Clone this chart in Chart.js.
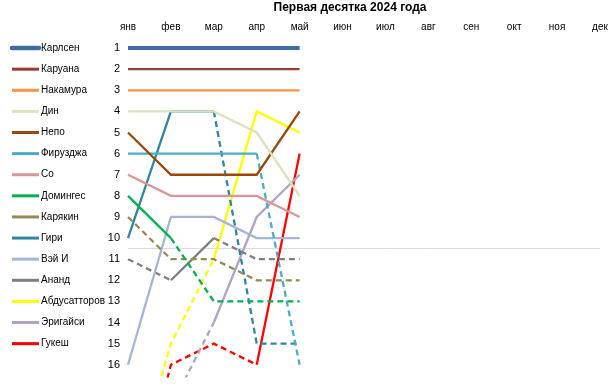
<!DOCTYPE html>
<html>
<head>
<meta charset="utf-8">
<script src="https://cdn.jsdelivr.net/npm/chart.js@4"></script>
<style>
  html, body { margin: 0; padding: 0; background: #fff; }
  #wrap { width: 615px; height: 392px; }
</style>
</head>
<body>
<div id="wrap"><canvas id="chart"></canvas></div>
<script>
// Месяцы и места в рейтинге
const months = ['янв', 'фев', 'мар', 'апр', 'май', 'июн', 'июл', 'авг', 'сен', 'окт', 'ноя', 'дек'];
const ranks = [1, 2, 3, 4, 5, 6, 7, 8, 9, 10, 11, 12, 13, 14, 15, 16];
const cutoff = 10.5;

// Места игроков по месяцам
const players = ['Карлсен', 'Каруана', 'Накамура', 'Дин', 'Непо', 'Фирузджа', 'Со', 'Домингес',
  'Карякин', 'Гири', 'Вэй И', 'Ананд', 'Абдусатторов', 'Эригайси', 'Гукеш'];
const karlsen = [1, 1, 1, 1, 1];
const caruana = [2, 2, 2, 2, 2];
const nakamura = [3, 3, 3, 3, 3];
const ding = [4, 4, 4, 5, 8];
const nepo = [5, 7, 7, 7, 4];
const firouzja = [6, 6, 6, 6, 16];
const so = [7, 8, 8, 8, 9];
const dominguez = [8, 10, 13, 13, 13];
const karjakin = [9, 11, 11, 12, 12];
const giri = [10, 4, 4, 15, 15];
const weiYi = [16, 9, 9, 10, 10];
const anand = [11, 12, 10, 11, 11];
const abdusattorov = [22, 15, 11, 4, 5];
const erigaisi = [null, 18, 14, 9, 7];
const gukesh = [24, 16, 15, 16, 6];

const series = [karlsen, caruana, nakamura, ding, nepo, firouzja, so, dominguez,
  karjakin, giri, weiYi, anand, abdusattorov, erigaisi, gukesh];

// Цвета линий
const colors = ['#3D6CA8', '#9B3B37', '#F79646', '#D7E4BD', '#984807', '#4BACC6', '#D99694', '#00B050',
  '#948A54', '#31859C', '#A5B5D6', '#7F7F7F', '#FFFF00', '#B3A2C7', '#FF0000'];

const FONT = '"Liberation Sans", Arial, sans-serif';

const datasets = series.map((values, i) => ({
  label: players[i],
  data: values,
  borderColor: colors[i],
  borderWidth: i === 0 ? 4 : 2.3,
  pointRadius: 0,
  tension: 0,
  segment: {
    // пунктир, если игрок вне первой десятки
    borderDash: ctx => ctx.p1.parsed.y > 10 ? [6, 4] : undefined
  }
}));

datasets.push({
  label: 'граница',
  data: months.map(() => cutoff),
  borderColor: '#D9D9D9',
  borderWidth: 1,
  pointRadius: 0
});

// Легенда слева, по уровням мест
const sideLegend = {
  id: 'sideLegend',
  afterDraw(chart) {
    const { ctx, scales: { y } } = chart;
    players.forEach((name, i) => {
      const py = y.getPixelForValue(ranks[i]);
      ctx.save();
      ctx.strokeStyle = colors[i];
      ctx.lineWidth = i === 0 ? 4.5 : 3;
      ctx.lineCap = i === 0 ? 'round' : 'butt';
      ctx.beginPath();
      ctx.moveTo(12, py);
      ctx.lineTo(39, py);
      ctx.stroke();
      ctx.fillStyle = '#000';
      ctx.font = '10px ' + FONT;
      ctx.textBaseline = 'middle';
      ctx.fillText(name, 41, py);
      ctx.restore();
    });
  }
};

new Chart(document.getElementById('chart'), {
  type: 'line',
  data: { labels: months, datasets: datasets },
  options: {
    responsive: true,
    maintainAspectRatio: false,
    animation: false,
    devicePixelRatio: 1,
    layout: { padding: { left: 100, right: 15, top: 0, bottom: 12 } },
    plugins: {
      legend: { display: false },
      tooltip: { enabled: false },
      title: {
        display: true,
        text: 'Первая десятка 2024 года',
        color: '#000',
        font: { family: FONT, size: 12, weight: 'bold' },
        padding: { top: 0, bottom: 4 }
      }
    },
    scales: {
      x: {
        position: 'top',
        offset: false,
        grid: { display: false, drawTicks: false },
        border: { display: false },
        ticks: { color: '#000', font: { family: FONT, size: 10 }, padding: 2, maxRotation: 0, autoSkip: false },
        afterFit: s => { s.height = 17; }
      },
      y: {
        reverse: true,
        min: 0.4,
        max: 16.6,
        grid: { display: false, drawTicks: false },
        border: { display: false },
        ticks: { color: '#000', font: { family: FONT, size: 11 }, padding: 8 },
        afterBuildTicks: s => { s.ticks = ranks.map(v => ({ value: v })); },
        afterFit: s => { s.width = 28; }
      }
    }
  },
  plugins: [sideLegend]
});
</script>
</body>
</html>
